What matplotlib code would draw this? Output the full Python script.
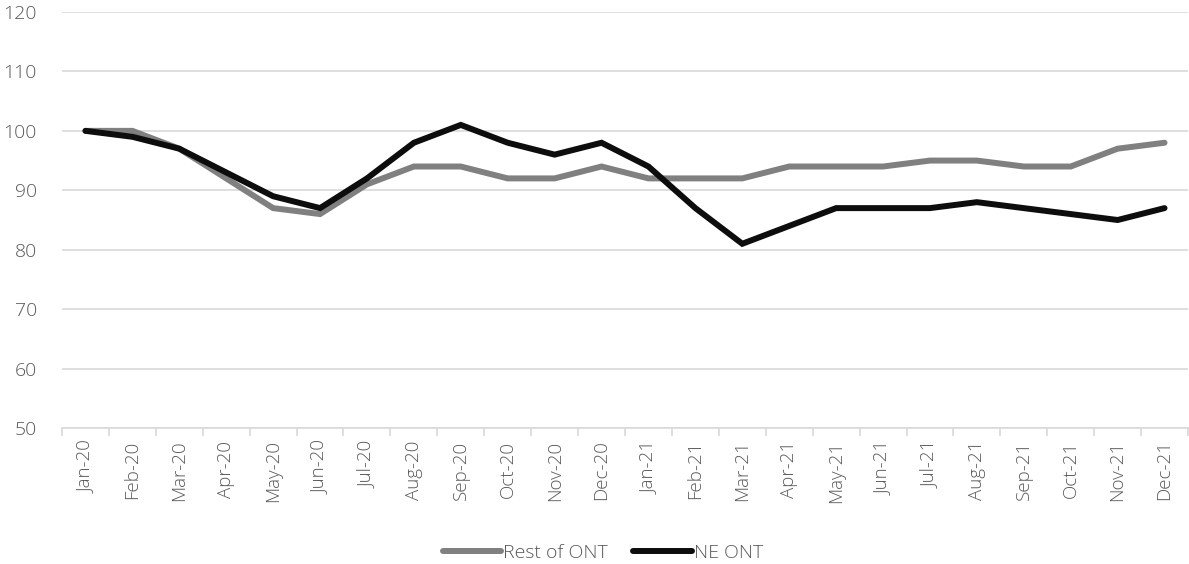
import matplotlib
matplotlib.use("Agg")
import matplotlib.pyplot as plt
import numpy as np

months = ["Jan-20", "Feb-20", "Mar-20", "Apr-20", "May-20", "Jun-20", "Jul-20", "Aug-20",
          "Sep-20", "Oct-20", "Nov-20", "Dec-20", "Jan-21", "Feb-21", "Mar-21", "Apr-21",
          "May-21", "Jun-21", "Jul-21", "Aug-21", "Sep-21", "Oct-21", "Nov-21", "Dec-21"]
rest_of_ont = [100, 100, 97, 92, 87, 86, 91, 94, 94, 92, 92, 94,
               92, 92, 92, 94, 94, 94, 95, 95, 94, 94, 97, 98]
ne_ont = [100, 99, 97, 93, 89, 87, 92, 98, 101, 98, 96, 98,
          94, 87, 81, 84, 87, 87, 87, 88, 87, 86, 85, 87]
y_ticks = [50, 60, 70, 80, 90, 100, 110, 120]

plt.rcParams['font.family'] = ['Open Sans', 'DejaVu Sans']
text_color = "#595959"
grid_color = "#d9d9d9"

W, H = 1189, 564
fig = plt.figure(figsize=(W / 100, H / 100), dpi=100)
ax = fig.add_axes([62 / W, 1 - 428 / H, 1126 / W, 416 / H])

x = np.arange(len(months))
ax.plot(x, rest_of_ont, color="#808080", lw=4.3, solid_capstyle="round",
        solid_joinstyle="miter", label="Rest of ONT", zorder=3)
ax.plot(x, ne_ont, color="#0d0d0d", lw=4.3, solid_capstyle="round",
        solid_joinstyle="miter", label="NE ONT", zorder=4)

ax.set_xlim(-0.5, len(months) - 0.5)
ax.set_ylim(50, 120)
ax.set_yticks(y_ticks)
ax.grid(axis="y", color=grid_color, lw=1.2)
ax.set_axisbelow(True)

ax.set_xticks(x)
ax.set_xticklabels(months, rotation=90, color=text_color, fontsize=13.5, fontweight="light")
ax.set_xticks(np.arange(-0.5, len(months)), minor=True)
ax.tick_params(axis="x", which="major", length=0, pad=9)
ax.tick_params(axis="x", which="minor", length=6, color=grid_color, width=1.2)
ax.tick_params(axis="y", length=0, labelcolor=text_color, labelsize=14, pad=18)
for lbl in ax.get_yticklabels():
    lbl.set_fontweight("light")

for side in ["top", "right", "left"]:
    ax.spines[side].set_visible(False)
ax.spines["bottom"].set_color(grid_color)
ax.spines["bottom"].set_linewidth(1.2)

leg = fig.legend(loc="center", bbox_to_anchor=(603 / W, 11 / H), ncol=2, frameon=False,
                 prop={"size": 14, "weight": "light"}, handlelength=3.0,
                 handletextpad=0.1, columnspacing=1.3, labelcolor=text_color,
                 borderpad=0, borderaxespad=0)

fig.savefig("out.png", dpi=100)
